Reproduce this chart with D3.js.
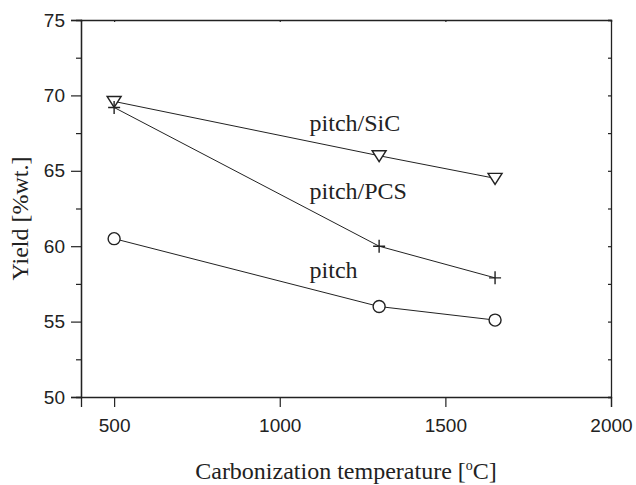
<!DOCTYPE html>
<html>
<head>
<meta charset="utf-8">
<script src="https://cdn.jsdelivr.net/npm/d3@7"></script>
<style>
  body { margin: 0; background: #fff; }
  .tick text { font-family: "Liberation Sans", Arial, sans-serif; font-size: 19px; fill: #222; }
  .lbl { font-family: "Liberation Serif", "Times New Roman", serif; font-size: 24px; fill: #222; }
</style>
</head>
<body>
<div id="chart"></div>
<script>
// temperatures (degC) and yields (% wt.)
var temps = [500, 1300, 1650];
var pitch_sic = [69.6, 66.0, 64.5];
var pitch_pcs = [69.2, 60.0, 57.9];
var pitch = [60.5, 56.0, 55.1];
var series_names = ["pitch/SiC", "pitch/PCS", "pitch"];
var x_ticks = [500, 1000, 1500, 2000];
var y_ticks = [50, 55, 60, 65, 70, 75];
var y_minor = [52.5, 57.5, 62.5, 67.5, 72.5];

var W = 636, H = 485;
var margin = {top: 20, right: 25, bottom: 88, left: 81},
    width = W - margin.left - margin.right,
    height = H - margin.top - margin.bottom;

var x = d3.scaleLinear().domain([400, 2000]).range([0, width]);
var y = d3.scaleLinear().domain([50, 75]).range([height, 0]);

var svg = d3.select("#chart").append("svg")
    .attr("width", W)
    .attr("height", H)
    .append("g")
    .attr("transform", "translate(" + margin.left + "," + margin.top + ")");

//Bottom axis - outward ticks
svg.append("g")
    .attr("transform", "translate(0," + height + ")")
    .call(d3.axisBottom(x).tickValues(x_ticks).tickSize(10).tickPadding(12).tickFormat(d3.format("d")));

//Left axis - outward ticks, minor ticks shorter
svg.append("g")
    .call(d3.axisLeft(y).tickValues(y_ticks).tickSize(10).tickPadding(6).tickFormat(d3.format("d")));
svg.append("g")
    .call(d3.axisLeft(y).tickValues(y_minor).tickSize(5).tickFormat(""));

//Top and right axes - tiny inward ticks
svg.append("g")
    .call(d3.axisTop(x).tickValues(x_ticks).tickSize(-2).tickFormat(""));
svg.append("g")
    .attr("transform", "translate(" + width + ",0)")
    .call(d3.axisRight(y).tickValues(y_ticks.concat(y_minor)).tickSize(-3).tickFormat(""));

svg.selectAll(".domain").attr("stroke", "#222").attr("stroke-width", 1.3);
svg.selectAll(".tick line").attr("stroke", "#222").attr("stroke-width", 1.2);

var line = d3.line()
    .x(function(d) { return x(d[0]); })
    .y(function(d) { return y(d[1]); });

var all_series = [pitch_sic, pitch_pcs, pitch];
var shapes = ["tri", "plus", "circle"];

all_series.forEach(function(vals, i) {
    var pts = temps.map(function(t, j) { return [t, vals[j]]; });

    svg.append("path")
        .datum(pts)
        .attr("fill", "none")
        .attr("stroke", "#222")
        .attr("stroke-width", 1)
        .attr("d", line);

    var g = svg.selectAll(".m" + i)
        .data(pts)
        .enter().append("g")
        .attr("transform", function(d) { return "translate(" + x(d[0]) + "," + y(d[1]) + ")"; });

    if (shapes[i] == "tri") {
        g.append("path")
            .attr("d", "M-7,-5L7,-5L0,6Z")
            .attr("fill", "#fff")
            .attr("stroke", "#222")
            .attr("stroke-width", 1.4);
    } else if (shapes[i] == "plus") {
        g.append("path")
            .attr("d", "M-6,0L6,0M0,-6.5L0,6.5")
            .attr("stroke", "#222")
            .attr("stroke-width", 1.4);
    } else {
        g.append("circle")
            .attr("r", 6)
            .attr("fill", "#fff")
            .attr("stroke", "#222")
            .attr("stroke-width", 1.4);
    }
});

//Series labels placed by the lines (data coords of text baseline start)
var label_pos = [[1090, 67.65], [1090, 63.1], [1090, 57.9]];
series_names.forEach(function(name, i) {
    svg.append("text")
        .attr("class", "lbl")
        .attr("x", x(label_pos[i][0]))
        .attr("y", y(label_pos[i][1]))
        .text(name);
});

//X-axis label
var xl = svg.append("text")
    .attr("class", "lbl")
    .attr("x", width / 2)
    .attr("y", height + 82)
    .attr("text-anchor", "middle");
xl.append("tspan").text("Carbonization temperature [");
xl.append("tspan").attr("dy", "-9").style("font-size", "14px").text("o");
xl.append("tspan").attr("dy", "9").text("C]");

//Y-axis label
svg.append("text")
    .attr("class", "lbl")
    .attr("transform", "rotate(-90)")
    .attr("x", -(height / 2 + 10))
    .attr("y", -53)
    .attr("text-anchor", "middle")
    .text("Yield [%wt.]");
</script>
</body>
</html>
